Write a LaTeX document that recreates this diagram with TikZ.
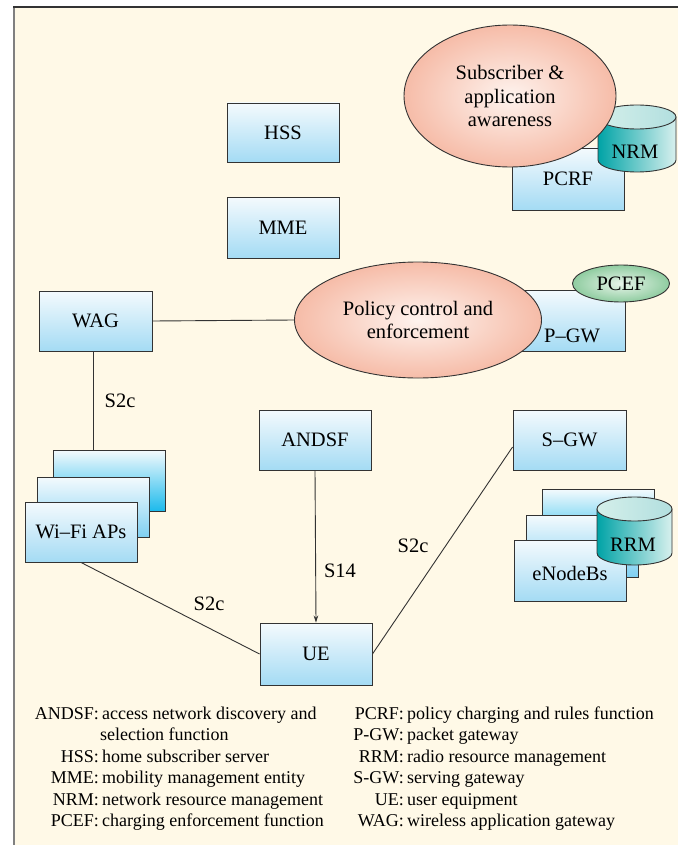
\documentclass[tikz,border=0pt]{standalone}
\usepackage{fontspec}
\setmainfont{Liberation Serif}
\usetikzlibrary{shapes.geometric,arrows.meta}
\definecolor{cream}{HTML}{FFF9E7}
\definecolor{bord}{HTML}{333333}
\definecolor{boxtop}{HTML}{F4FAFD}
\definecolor{boxbot}{HTML}{A4DBF4}
\definecolor{boxmid}{HTML}{7FD0F2}
\definecolor{boxdeep}{HTML}{1CBAEC}
\definecolor{salin}{HTML}{FEF3EE}
\definecolor{salout}{HTML}{F6BCA8}
\definecolor{grin}{HTML}{E8F5EA}
\definecolor{grout}{HTML}{8FCCA0}
\definecolor{tealdark}{HTML}{00A3A6}
\definecolor{teallight}{HTML}{D8F0EE}
\definecolor{capleft}{HTML}{D4EFEA}
\definecolor{capright}{HTML}{B2DFDF}
\begin{document}
\begin{tikzpicture}[x=1pt,y=-1pt,
  box/.style={draw=bord, line width=0.9pt, top color=boxtop, bottom color=boxbot,
    minimum width=112pt, minimum height=60pt, inner sep=0pt,
    font=\fontsize{20.5}{24}\selectfont},
  txt/.style={inner sep=0pt, font=\fontsize{20.5}{24}\selectfont},
  bubble/.style={ellipse, draw=bord, line width=0.9pt, inner color=salin, outer color=salout,
    inner sep=0pt, align=center, font=\fontsize{20.5}{23.5}\selectfont},
  conn/.style={draw=bord, line width=0.9pt},
  lgl/.style={anchor=base east, inner sep=0pt, font=\fontsize{18}{21}\selectfont},
  lgd/.style={anchor=base west, inner sep=0pt, font=\fontsize{18}{21}\selectfont},
  cylbody/.style={draw=bord, line width=0.9pt, left color=tealdark, right color=teallight},
  cyltop/.style={draw=bord, line width=0.9pt, left color=capleft, right color=capright}]
\useasboundingbox (0,0) rectangle (678,845);
\fill[white] (0,0) rectangle (678,845);
\fill[cream] (14,7) rectangle (678,845);
\draw[gray, line width=1.5pt] (14,7) -- (14,845);
\draw[bord, line width=1.5pt] (13.3,7) -- (678,7);

% top boxes
\node[box, minimum height=59pt] (hss) at (283,132.5) {HSS};
\node[box, minimum height=61pt] (mme) at (283,227.5) {MME};

% PCRF + NRM + subscriber awareness
\node[box, minimum height=62pt] (pcrf) at (568,179) {PCRF};
\path[cylbody] (598,117) -- (598,160) arc[start angle=180, end angle=360, x radius=39pt, y radius=12pt] -- (676,117) -- cycle;
\path[cyltop] (637,117) ellipse [x radius=39pt, y radius=12pt];
\node[txt] (nrm) at (635,152) {NRM};
\node[bubble, minimum width=212pt, minimum height=142pt] (sub) at (510,96)
  {Subscriber \&\\application\\awareness};

% P-GW + policy + PCEF
\node[box, minimum height=61pt] (pgw) at (569,320.5) {};
\node[bubble, minimum width=247pt, minimum height=116pt] (pce) at (418,320)
  {Policy control and\\enforcement};
\node[ellipse, draw=bord, line width=0.9pt, inner color=grin, outer color=grout,
  minimum width=97pt, minimum height=37pt, inner sep=0pt,
  font=\fontsize{20.5}{24}\selectfont] (pcef) at (621,283.5) {PCEF};
\node[txt] (pgwt) at (572,336) {P--GW};

% WAG and Wi-Fi APs
\node[box, minimum width=113pt] (wag) at (95.5,321) {WAG};
\node[box, minimum height=61pt, bottom color=boxdeep] (wifi3) at (109,480.5) {};
\node[box, bottom color=boxmid] (wifi2) at (93,507) {};
\node[box] (wifi1) at (81,532) {Wi--Fi APs};

% ANDSF, S-GW
\node[box] (andsf) at (315,440) {ANDSF};
\node[box, minimum width=113pt] (sgw) at (569.5,440) {S--GW};

% eNodeBs + RRM
\node[box, bottom color=boxdeep] (enb3) at (598,519) {};
\node[box, minimum height=62pt, bottom color=boxmid] (enb2) at (582,546) {};
\node[box, minimum height=61pt] (enb1) at (570,570.5) {};
\node[txt] (enbt) at (570,573) {eNodeBs};
\path[cylbody] (597,509) -- (597,553) arc[start angle=180, end angle=360, x radius=37.5pt, y radius=12pt] -- (672,509) -- cycle;
\path[cyltop] (634.5,509) ellipse [x radius=37.5pt, y radius=12pt];
\node[txt] (rrm) at (633,545) {RRM};

% UE
\node[box, minimum height=62pt] (ue) at (316,654) {UE};

% connectors
\draw[conn] (wag.south -| 93,0) -- (wifi3.north -| 93,0);
\draw[conn] (wag.east) -- (pce.west);
\draw[conn, -{Stealth[length=7pt, width=4.5pt]}] (andsf.south) -- (ue.north);
\draw[conn] (wifi1.south) -- (ue.west);
\draw[conn] (ue.east) -- ([yshift=-7pt]sgw.west);

% link labels
\node[txt] (l1) at (120,401) {S2c};
\node[txt] (l2) at (340,571) {S14};
\node[txt] (l3) at (413,546) {S2c};
\node[txt] (l4) at (209,604) {S2c};

% legend left
\node[lgl] (a1) at (99,719) {ANDSF:};
\node[lgd] (b1) at (102,719) {access network discovery and};
\node[lgd] (b1b) at (100,740.5) {selection function};
\node[lgl] (a2) at (99,762) {HSS:};
\node[lgd] (b2) at (102,762) {home subscriber server};
\node[lgl] (a3) at (99,783.5) {MME:};
\node[lgd] (b3) at (102,783.5) {mobility management entity};
\node[lgl] (a4) at (99,805) {NRM:};
\node[lgd] (b4) at (102,805) {network resource management};
\node[lgl] (a5) at (99,826.5) {PCEF:};
\node[lgd] (b5) at (102,826.5) {charging enforcement function};

% legend right
\node[lgl] (c1) at (404,719) {PCRF:};
\node[lgd] (d1) at (407,719) {policy charging and rules function};
\node[lgl] (c2) at (404,740.5) {P-GW:};
\node[lgd] (d2) at (407,740.5) {packet gateway};
\node[lgl] (c3) at (404,762) {RRM:};
\node[lgd] (d3) at (407,762) {radio resource management};
\node[lgl] (c4) at (404,783.5) {S-GW:};
\node[lgd] (d4) at (407,783.5) {serving gateway};
\node[lgl] (c5) at (404,805) {UE:};
\node[lgd] (d5) at (407,805) {user equipment};
\node[lgl] (c6) at (404,826.5) {WAG:};
\node[lgd] (d6) at (407,826.5) {wireless application gateway};
\end{tikzpicture}
\end{document}
